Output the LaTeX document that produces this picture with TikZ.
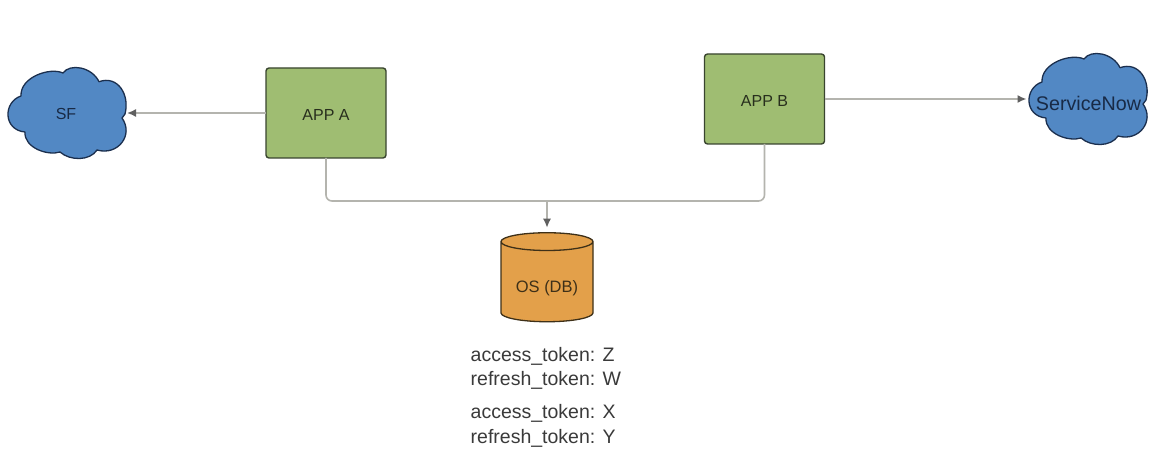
\documentclass[tikz,border=0pt]{standalone}
\usepackage{fontspec}
\setmainfont{Liberation Sans}
\usetikzlibrary{shapes.geometric,arrows.meta}
\definecolor{appgreen}{HTML}{9FBD72}
\definecolor{appedge}{HTML}{39452F}
\definecolor{cloudblue}{HTML}{5288C4}
\definecolor{cloudedge}{HTML}{1B2F4E}
\definecolor{dborange}{HTML}{E3A04A}
\definecolor{dbedge}{HTML}{3E3018}
\definecolor{linkgrey}{HTML}{B4B4AE}
\definecolor{tipgrey}{HTML}{606060}
\definecolor{tokentext}{HTML}{3A3A3A}
\newcommand{\cloudoutline}{
  (125,114) .. controls (130,95) and (118,75) .. (99,81.7)
  .. controls (92,67) and (70,63) .. (63,73)
  .. controls (50,67) and (20,77) .. (21,96)
  .. controls (3,102) and (3,130) .. (25,132)
  .. controls (24,148) and (48,156) .. (60,152)
  .. controls (70,161) and (90,161) .. (97,150)
  .. controls (118,156) and (134,135) .. (122,118)
  -- cycle}
\tikzset{
  appbox/.style={draw=appedge,line width=1.4pt,fill=appgreen,rounded corners=3pt,
    minimum width=120pt,minimum height=90pt,inner sep=0pt,outer sep=0pt,
    text height=15.5pt,text depth=0pt,
    font=\fontsize{16}{18}\selectfont,text=black!75!appgreen},
  cloudbody/.style={draw=cloudedge,line width=1.3pt,fill=cloudblue,line join=round},
  cloudlabel/.style={minimum width=118pt,minimum height=40pt,inner sep=0pt,outer sep=0pt,
    text=cloudedge!90!black},
  dbshape/.style={shape=cylinder,shape border rotate=90,aspect=0.285,draw=dbedge,line width=1.3pt,
    cylinder uses custom fill,cylinder body fill=dborange,cylinder end fill=dborange,
    minimum width=92pt,minimum height=89pt,inner sep=0pt,outer sep=0pt,
    text height=20pt,text depth=0pt,
    font=\fontsize{16.5}{18}\selectfont,text=dbedge},
  link/.style={draw=linkgrey,line width=1.6pt},
  linkarrow/.style={link,-{Latex[length=9pt,width=8pt,color=tipgrey]}},
  tokens/.style={anchor=base west,align=left,inner sep=0pt,
    font=\fontsize{19.5}{24.5}\selectfont,text=tokentext}
}
\begin{document}
\begin{tikzpicture}[x=1pt,y=-1pt]
\useasboundingbox (0,0) rectangle (1162,476);
\fill[white] (0,0) rectangle (1162,476);
% clouds
\path[cloudbody] \cloudoutline;
\node[cloudlabel,font=\fontsize{16}{18}\selectfont] (sf) at (66,114) {SF};
\begin{scope}[shift={(1021pt,14pt)}]
\path[cloudbody] \cloudoutline;
\end{scope}
\node[cloudlabel,font=\fontsize{19.7}{22}\selectfont] (snow) at (1088.5,103) {ServiceNow};
% apps
\node[appbox] (appA) at (326,113) {APP A};
\node[appbox] (appB) at (764.5,99) {APP B};
% database
\node[dbshape] (db) at (547,282) {OS (DB)};
\coordinate (join) at (547,201);
% connectors
\draw[linkarrow] (appA.west) -- ([xshift=2pt]sf.east |- appA.west);
\draw[linkarrow] (appB.east) -- ([xshift=-3pt]snow.west |- appB.east);
\draw[link,rounded corners=6pt] (appA.south) |- (join) -| (appB.south);
\draw[linkarrow,shorten >=5pt] (join) -- (db.north);
% token notes
\node[tokens] (tokensA) at (470.5,385.5) {access\_token: Z\\refresh\_token: W};
\node[tokens] (tokensB) at (470.5,443) {access\_token: X\\refresh\_token: Y};
\end{tikzpicture}
\end{document}
